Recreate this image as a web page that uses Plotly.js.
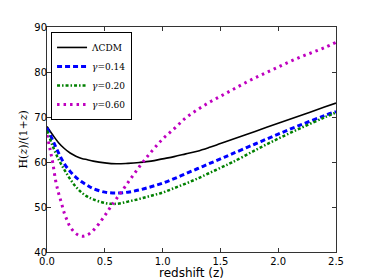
<!DOCTYPE html>
<html>
<head>
<meta charset="utf-8">
<script src="https://cdn.plot.ly/plotly-3.0.1.min.js"></script>
<style>html,body{margin:0;padding:0;background:#fff;}#chart{width:374px;height:280px;}</style>
</head>
<body>
<div id="chart"></div>
<script>
// redshift grid for the smooth curves
const zGrid = [0,0.05,0.1,0.15,0.2,0.25,0.3,0.35,0.4,0.5,0.6,0.7,0.8,0.9,1.0,1.1,1.2,1.3,1.4,1.5,1.6,1.8,2.0,2.2,2.4,2.5];
const lcdm  = [67.9,66.0,64.3,63.0,62.0,61.3,60.8,60.5,60.2,59.8,59.6,59.7,59.9,60.2,60.7,61.2,61.8,62.4,63.2,64.1,65.0,66.8,68.6,70.4,72.2,73.1];
const g014  = [67.6,64.8,62.0,59.6,57.9,56.6,55.6,54.8,54.1,53.3,53.1,53.3,53.8,54.5,55.3,56.3,57.4,58.5,59.6,60.7,61.8,64.0,66.2,68.3,70.3,71.2];
const g020  = [67.0,63.5,60.6,58.3,56.2,54.5,53.2,52.3,51.7,50.9,50.7,51.2,51.8,52.5,53.2,54.2,55.2,56.3,57.5,58.7,59.9,62.6,65.2,67.6,69.9,71.0];
// gamma = 0.60 curve
const zG060 = [0,0.025,0.05,0.075,0.1,0.125,0.15,0.175,0.2,0.25,0.3,0.35,0.4,0.45,0.5,0.55,0.6,0.7,0.8,0.9,1.0,1.1,1.2,1.3,1.4,1.5,1.6,1.7,1.8,1.9,2.0,2.1,2.2,2.3,2.4,2.5];
const g060  = [66.0,63.0,59.8,55.8,53.1,50.9,48.6,47.0,45.6,44.1,43.5,43.8,44.8,46.3,48.1,50.0,51.8,55.4,59.0,62.2,65.1,67.4,69.8,71.6,73.2,74.6,76.0,77.4,78.7,79.9,81.1,82.3,83.4,84.4,85.4,86.6];

const names = ['ΛCDM','<i>γ</i>=0.14','<i>γ</i>=0.20','<i>γ</i>=0.60'];
const xTicks = [0,0.5,1.0,1.5,2.0,2.5];
const xTickText = ['0.0','0.5','1.0','1.5','2.0','2.5'];
const yTicks = [40,50,60,70,80,90];
const yTitle = 'H(<i>z</i>)/(1+<i>z</i>)';
const xTitle = 'redshift (z)';

const traces = [
  {x: zGrid, y: lcdm, name: names[0], mode: 'lines', line: {color: '#000000', width: 1.6, shape: 'spline', smoothing: 1}},
  {x: zGrid, y: g014, name: names[1], mode: 'lines', line: {color: '#0000ff', width: 3, dash: '5px,3px', shape: 'spline', smoothing: 1}},
  {x: zGrid, y: g020, name: names[2], mode: 'lines', line: {color: '#008000', width: 2.5, dash: '3px,2px,1.5px,2px', shape: 'spline', smoothing: 1}},
  {x: zG060, y: g060, name: names[3], mode: 'lines', line: {color: '#bf00bf', width: 3, dash: '2.5px,4px', shape: 'spline', smoothing: 1}}
];

const axisCommon = {
  showgrid: false, zeroline: false, showline: true, mirror: 'ticks',
  linecolor: '#333', linewidth: 1, ticks: 'inside', ticklen: 4, tickcolor: '#333',
  tickfont: {family: 'DejaVu Sans', size: 10, color: '#000'}
};

const layout = {
  width: 374, height: 280,
  margin: {l: 47, r: 38, t: 27, b: 28},
  paper_bgcolor: '#fff', plot_bgcolor: '#fff',
  showlegend: true,
  legend: {
    x: 0.014, y: 0.978, xanchor: 'left', yanchor: 'top',
    bgcolor: '#fff', bordercolor: '#000', borderwidth: 1,
    font: {family: 'DejaVu Serif', size: 9, color: '#000'},
    itemwidth: 30, tracegroupgap: 0
  },
  xaxis: Object.assign({}, axisCommon, {
    range: [0, 2.5], tickvals: xTicks, ticktext: xTickText, ticklabelstandoff: 0,
    title: {text: xTitle, font: {family: 'DejaVu Sans', size: 12, color: '#000'}, standoff: 1}
  }),
  yaxis: Object.assign({}, axisCommon, {
    range: [40, 90], tickvals: yTicks, ticklabelstandoff: -3
  }),
  annotations: [{
    text: yTitle, textangle: -90, showarrow: false,
    xref: 'paper', yref: 'paper', x: 0, y: 0.5, xanchor: 'center', yanchor: 'middle',
    xshift: -24, font: {family: 'DejaVu Serif', size: 11, color: '#000'}
  }]
};

Plotly.newPlot('chart', traces, layout, {staticPlot: true, displayModeBar: false});
</script>
</body>
</html>
